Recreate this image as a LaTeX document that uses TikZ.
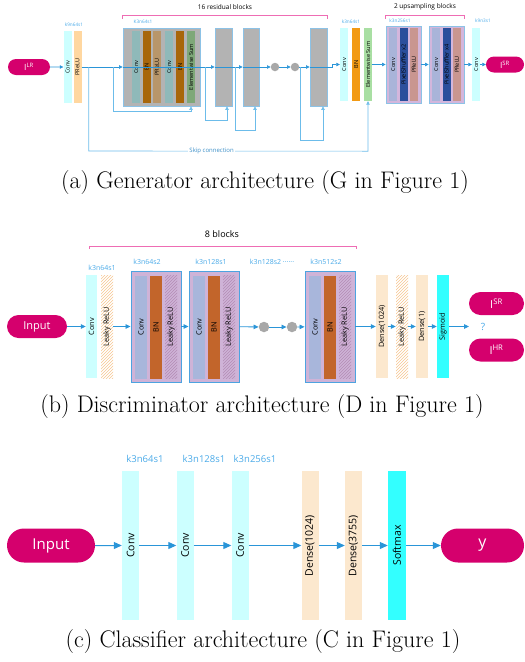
\documentclass[tikz,border=0pt]{standalone}
\usepackage{fontspec}
\newfontfamily\diagfont{Open Sans}
\usetikzlibrary{arrows.meta, positioning, calc, patterns, shapes.misc}
\definecolor{pillmag}{HTML}{D5006D}
\definecolor{linkblue}{HTML}{2A95D8}
\definecolor{loopblue}{HTML}{6CBCEA}
\definecolor{tagblue}{HTML}{4AAAE8}
\definecolor{skiptext}{HTML}{3B8FC8}
\definecolor{bracepink}{HTML}{EE6DB4}
\definecolor{convcyan}{HTML}{CCFFFF}
\definecolor{sigcyan}{HTML}{33FFFF}
\definecolor{densetan}{HTML}{FCE8CE}
\definecolor{preluorange}{HTML}{FFD7A0}
\definecolor{resgray}{HTML}{B3B3B3}
\definecolor{resframe}{HTML}{8CC2E6}
\definecolor{resconv}{HTML}{8FB9B9}
\definecolor{resbn}{HTML}{A8660A}
\definecolor{resprelu}{HTML}{B8966A}
\definecolor{ressum}{HTML}{7EA878}
\definecolor{postbn}{HTML}{F29A14}
\definecolor{postsum}{HTML}{A9DFA3}
\definecolor{upfill}{HTML}{D3B6DC}
\definecolor{upconv}{HTML}{A9B4D9}
\definecolor{upshuffle}{HTML}{2B4F9C}
\definecolor{upprelu}{HTML}{C99690}
\definecolor{dframe}{HTML}{4DA3E0}
\definecolor{dblock}{HTML}{CFB3D7}
\definecolor{dconv}{HTML}{A8B6DB}
\definecolor{dbn}{HTML}{C2652B}
\definecolor{dhatch}{HTML}{B48CB4}
\definecolor{lrhatch}{HTML}{F6C690}
\definecolor{dotgray}{HTML}{A8A8A8}
\newcommand{\vlab}[1]{\rotatebox{90}{#1}}

\begin{document}
\begin{tikzpicture}[x=1pt, y=-1pt,
    every node/.style={font=\diagfont},
    pill/.style={rounded rectangle, fill=pillmag, text=white, inner sep=0pt},
    gstrip/.style={inner sep=0pt, minimum width=8pt, minimum height=72pt, font=\diagfont\fontsize{5.6}{6}\selectfont},
    dstrip/.style={inner sep=0pt, minimum width=12pt, minimum height=103pt, font=\diagfont\fontsize{7.3}{8}\selectfont},
    cstrip/.style={inner sep=0pt, minimum width=17pt, minimum height=149pt, font=\diagfont\fontsize{10.5}{11}\selectfont},
    resblk/.style={draw=resframe, fill=resgray, line width=0.8pt, inner sep=0pt, minimum height=78pt},
    upblk/.style={draw=resframe, fill=upfill, line width=0.8pt, inner sep=0pt, minimum width=35pt, minimum height=77pt},
    dblk/.style={draw=dframe, fill=dblock, line width=0.9pt, inner sep=0pt, minimum width=50pt, minimum height=111pt},
    hatch/.style={pattern=north east lines, pattern color=#1},
    gtag/.style={text=tagblue, font=\diagfont\fontsize{4.7}{5}\selectfont, inner sep=0pt},
    dtag/.style={text=tagblue, font=\diagfont\fontsize{7}{8}\selectfont, inner sep=0pt},
    ctag/.style={text=tagblue, font=\diagfont\fontsize{9.5}{10}\selectfont, inner sep=0pt},
    brlabel/.style={inner sep=0pt},
    brk/.style={bracepink, line width=0.6pt},
    gdot/.style={circle, fill=dotgray, inner sep=0pt},
    garr/.style={-{Triangle[length=3.5pt, width=3.5pt]}, linkblue, line width=0.6pt},
    glink/.style={linkblue, line width=0.6pt},
    gskip/.style={-{Triangle[length=3.5pt, width=3.5pt]}, loopblue, line width=0.6pt},
    darr/.style={-{Triangle[length=5pt, width=4.5pt]}, linkblue, line width=0.8pt},
    carr/.style={-{Triangle[length=8pt, width=7pt]}, linkblue, line width=1pt},
    capt/.style={font=\rmfamily\fontsize{24}{28}\selectfont, inner sep=0pt}
]
    \useasboundingbox (0,0) rectangle (525,662);

    % (a) generator
    \node[pill, minimum width=42pt, minimum height=16pt, font=\diagfont\fontsize{8.5}{9}\selectfont] (glr) at (29,67) {I\textsuperscript{LR}};
    \node[gstrip, fill=convcyan] (gc1) at (67.5,67) {\vlab{Conv}};
    \node[gstrip, fill=preluorange] (gp1) at (77.5,67) {\vlab{PReLU}};
    \node[gtag] (gt1) at (74,25) {k9n64s1};

    \node[resblk, minimum width=77pt] (rb1) at (161.5,67) {};
    \node[gstrip, fill=resconv] (r1a) at (136,67) {\vlab{Conv}};
    \node[gstrip, fill=resbn] (r1b) at (146.5,67) {\vlab{BN}};
    \node[gstrip, fill=resprelu] (r1c) at (157,67) {\vlab{PReLU}};
    \node[gstrip, fill=resconv] (r1d) at (169,67) {\vlab{Conv}};
    \node[gstrip, fill=resbn] (r1e) at (180,67) {\vlab{BN}};
    \node[gstrip, fill=ressum] (r1f) at (191,67) {\vlab{Elementwise Sum}};
    \node[gtag] (gt2) at (143,22) {K3n64s1};

    \node[resblk, minimum width=17pt] (rb2) at (223.5,67) {};
    \node[resblk, minimum width=16pt] (rb3) at (251,67) {};
    \node[gdot, minimum size=8.5pt] (gd1) at (275,67) {};
    \node[gdot, minimum size=8.5pt] (gd2) at (295,67) {};
    \node[resblk, minimum width=17pt] (rb16) at (318.5,67) {};

    \node[gstrip, fill=convcyan, minimum height=73pt] (gc2) at (344,64.5) {\vlab{Conv}};
    \node[gstrip, fill=postbn, minimum height=73pt] (gbn) at (356,64.5) {\vlab{BN}};
    \node[gstrip, fill=postsum, minimum height=73pt] (gsum) at (368,64.5) {\vlab{Elementwise Sum}};
    \node[gtag] (gt3) at (351,22) {k3n64s1};

    \node[upblk] (ub1) at (403.5,64.5) {};
    \node[gstrip, fill=upconv, minimum height=73pt] (u1a) at (393,64.5) {\vlab{Conv}};
    \node[gstrip, fill=upshuffle, minimum height=73pt] (u1b) at (403.5,64.5) {\vlab{PixelShuffler x2}};
    \node[gstrip, fill=upprelu, minimum height=73pt] (u1c) at (414,64.5) {\vlab{PReLU}};
    \node[upblk] (ub2) at (446.5,64.5) {};
    \node[gstrip, fill=upconv, minimum height=73pt] (u2a) at (436,64.5) {\vlab{Conv}};
    \node[gstrip, fill=upshuffle, minimum height=73pt] (u2b) at (446.5,64.5) {\vlab{PixelShuffler x4}};
    \node[gstrip, fill=upprelu, minimum height=73pt] (u2c) at (457,64.5) {\vlab{PReLU}};
    \node[gtag] (gt4) at (400,21) {k3n256s1};

    \node[gstrip, fill=convcyan, minimum height=73pt] (gc3) at (476,64.5) {\vlab{Conv}};
    \node[gtag] (gt5) at (483,21) {k9n3s1};
    \node[pill, minimum width=38pt, minimum height=16pt, font=\diagfont\fontsize{8.5}{9}\selectfont] (gsr) at (505,64.5) {I\textsuperscript{SR}};

    \draw[brk] ([yshift=9pt]rb1.north west) -- ([yshift=12pt]rb1.north west) -- ([yshift=12pt]rb16.north east) -- ([yshift=9pt]rb16.north east);
    \node[brlabel, font=\diagfont\fontsize{6.5}{7}\selectfont] (gb1) at (225,7) {16 residual blocks};
    \draw[brk] ([yshift=7pt]ub1.north west) -- ([yshift=10pt]ub1.north west) -- ([yshift=10pt]ub2.north east) -- ([yshift=7pt]ub2.north east);
    \node[brlabel, font=\diagfont\fontsize{6.5}{7}\selectfont] (gb2) at (425,7) {2 upsampling blocks};

    \draw[garr] (glr) -- (gc1);
    \draw[garr] (gp1) -- (rb1);
    \draw[glink] (rb1.west) -- (rb1.east);
    \draw[garr] (rb1) -- (rb2);
    \draw[glink] (rb2.west) -- (rb2.east);
    \draw[garr] (rb2) -- (rb3);
    \draw[glink] (rb3.west) -- (rb3.east);
    \draw[garr] (rb3) -- (gd1);
    \draw[garr] (gd1) -- (gd2);
    \draw[garr] (gd2) -- (rb16);
    \draw[glink] (rb16.west) -- (rb16.east);
    \draw[garr] (rb16.east) -- ++(5,0) |- (gc2.west);
    \draw[garr] (gsum) -- (ub1);
    \draw[garr] (ub1) -- (ub2);
    \draw[garr] (ub2) -- (gc3);
    \draw[garr] (gc3) -- (gsr);

    \draw[gskip] ([xshift=-9pt]rb1.west) -- ++(0,44) -| (r1f.south |- rb1.south);
    \draw[gskip] ([xshift=-9pt]rb2.west) -- ++(0,53) -| ([xshift=3.5pt]rb2.south);
    \draw[gskip] ([xshift=-7pt]rb3.west) -- ++(0,63) -| ([xshift=4pt]rb3.south);
    \draw[gskip] ([xshift=-9pt]rb16.west) -- ++(0,73) -| ([xshift=4.5pt]rb16.south);
    \draw[gskip] ([xshift=7pt]gp1.east) -- ++(0,84) -- node[pos=0.44, fill=white, inner sep=1pt, text=skiptext, font=\diagfont\fontsize{6}{7}\selectfont] (gsk) {Skip connection} ($(gsum.south)+(0,50)$) -- (gsum.south);

    % (b) discriminator
    \node[pill, minimum width=60pt, minimum height=23pt, font=\diagfont\fontsize{11}{12}\selectfont] (din) at (37,326.5) {Input};
    \node[dstrip, fill=convcyan, minimum width=11pt] (dc1) at (91.5,326.5) {\vlab{Conv}};
    \node[dstrip, hatch=lrhatch] (dl1) at (107,326.5) {\vlab{Leaky ReLU}};
    \node[dtag] (dt1) at (102,268) {k3n64s1};

    \node[dblk] (db2) at (156,326.5) {};
    \node[dstrip, fill=dconv] (d2a) at (141,327) {\vlab{Conv}};
    \node[dstrip, fill=dbn] (d2b) at (156,327) {\vlab{BN}};
    \node[dstrip, hatch=dhatch] (d2c) at (171,327) {\vlab{Leaky ReLU}};
    \node[dtag] (dt2) at (147,262) {k3n64s2};

    \node[dblk] (db3) at (214,326.5) {};
    \node[dstrip, fill=dconv] (d3a) at (199,327) {\vlab{Conv}};
    \node[dstrip, fill=dbn] (d3b) at (214,327) {\vlab{BN}};
    \node[dstrip, hatch=dhatch] (d3c) at (229,327) {\vlab{Leaky ReLU}};
    \node[dtag] (dt3) at (211,262) {k3n128s1};

    \node[dtag] (dt4) at (272,262) {k3n128s2 ······};
    \node[gdot, minimum size=10.5pt] (dd1) at (264,327) {};
    \node[gdot, minimum size=10.5pt] (dd2) at (292,327) {};

    \node[dblk] (db4) at (330,326.5) {};
    \node[dstrip, fill=dconv] (d4a) at (315,327) {\vlab{Conv}};
    \node[dstrip, fill=dbn] (d4b) at (330,327) {\vlab{BN}};
    \node[dstrip, hatch=dhatch] (d4c) at (345,327) {\vlab{Leaky ReLU}};
    \node[dtag] (dt5) at (326,262) {k3n512s2};

    \node[dstrip, fill=densetan] (dn1) at (382,326.5) {\vlab{Dense(1024)}};
    \node[dstrip, hatch=lrhatch] (dl2) at (402,326.5) {\vlab{Leaky ReLU}};
    \node[dstrip, fill=densetan] (dn2) at (422,326.5) {\vlab{Dense(1)}};
    \node[dstrip, fill=sigcyan] (dsg) at (443,326.5) {\vlab{Sigmoid}};
    \coordinate (dq) at (469,326.5);
    \node[text=tagblue, font=\diagfont\fontsize{10}{11}\selectfont, inner sep=0pt] (dqm) at (483,326.5) {?};
    \node[pill, minimum width=55pt, minimum height=23pt, font=\diagfont\fontsize{11}{12}\selectfont] (dsr) at (496.5,303.5) {I\textsuperscript{SR}};
    \node[pill, minimum width=55pt, minimum height=23pt, font=\diagfont\fontsize{11}{12}\selectfont] (dhr) at (496.5,350) {I\textsuperscript{HR}};

    \draw[brk] (89,249) -- (89,246) -- (356,246) -- (356,249);
    \node[brlabel, font=\diagfont\fontsize{9}{10}\selectfont] (db8) at (222,234) {8 blocks};

    \draw[darr] (din) -- (dc1);
    \draw[darr] (dl1) -- (db2);
    \draw[darr] (db2) -- (db3);
    \draw[darr] (db3) -- (dd1);
    \draw[darr] (dd1) -- (dd2);
    \draw[darr] (dd2) -- (db4);
    \draw[darr] (db4) -- (dn1);
    \draw[darr] (dn1) -- (dl2);
    \draw[darr] (dl2) -- (dn2);
    \draw[darr] (dn2) -- (dsg);
    \draw[darr] (dsg) -- (dq);

    % (c) classifier
    \node[pill, minimum width=88pt, minimum height=34pt, font=\diagfont\fontsize{15}{16}\selectfont] (cin) at (51,545.5) {Input};
    \node[cstrip, fill=convcyan] (cc1) at (130.5,545.5) {\vlab{Conv}};
    \node[cstrip, fill=convcyan] (cc2) at (185,545.5) {\vlab{Conv}};
    \node[cstrip, fill=convcyan] (cc3) at (240,545.5) {\vlab{Conv}};
    \node[cstrip, fill=densetan] (cd1) at (310,545.5) {\vlab{Dense(1024)}};
    \node[cstrip, fill=densetan] (cd2) at (353.5,545.5) {\vlab{Dense(3755)}};
    \node[cstrip, fill=sigcyan, minimum width=18pt] (csm) at (397,545.5) {\vlab{Softmax}};
    \node[pill, minimum width=83pt, minimum height=34pt, font=\diagfont\fontsize{16}{17}\selectfont] (cy) at (482.5,545.5) {y};
    \node[ctag] (ct1) at (145,459) {k3n64s1};
    \node[ctag] (ct2) at (204,459) {k3n128s1};
    \node[ctag] (ct3) at (255,459) {k3n256s1};

    \draw[carr] (cin) -- (cc1);
    \draw[carr] (cc1) -- (cc2);
    \draw[carr] (cc2) -- (cc3);
    \draw[carr] (cc3) -- (cd1);
    \draw[carr] (cd1) -- (cd2);
    \draw[carr] (cd2) -- (csm);
    \draw[carr] (csm) -- (cy);

    \node[capt] (capa) at (265,183) {(a) Generator architecture (G in Figure 1)};
    \node[capt] (capb) at (262,407) {(b) Discriminator architecture (D in Figure 1)};
    \node[capt] (capc) at (263,642) {(c) Classifier architecture (C in Figure 1)};
\end{tikzpicture}
\end{document}
